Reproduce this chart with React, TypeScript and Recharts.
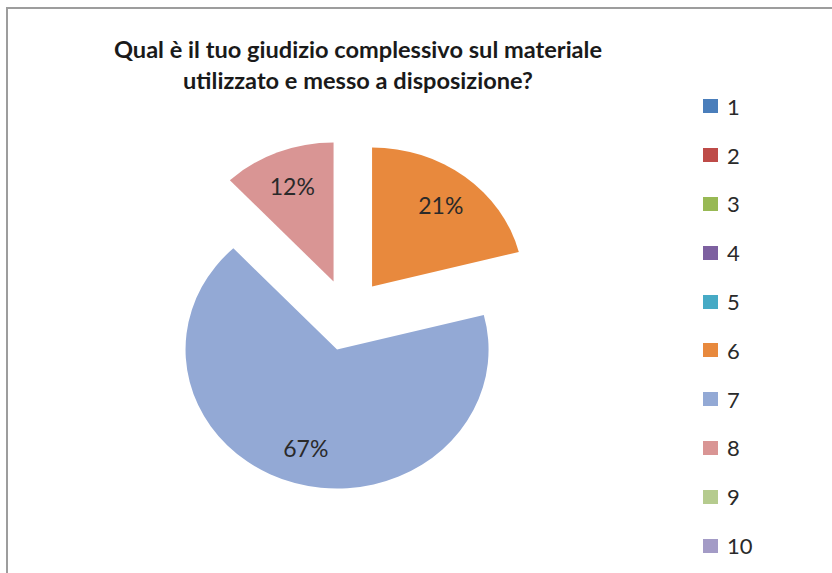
import React from 'react';
import { PieChart, Pie, Cell, Legend, Sector } from 'recharts';

const categories = ['1', '2', '3', '4', '5', '6', '7', '8', '9', '10'];
const shares = [0, 0, 0, 0, 0, 21, 67, 12, 0, 0];
const COLORS = ['#4A7EBB', '#BE4B48', '#98B954', '#7D60A0', '#46AAC5', '#E8893D', '#93A9D5', '#D99594', '#B5CB8E', '#A39BC6'];
const titleLines = ['Qual è il tuo giudizio complessivo sul materiale', 'utilizzato e messo a disposizione?'];

const RAD = Math.PI / 180;
const STRETCH = 1.09; // the original pie is a little wider than tall
const EXPLODE = 36;

const chartData = categories.map((name, i) => ({ name, value: shares[i], fill: COLORS[i] }));

const ExplodedSlice = (props: any) => {
  const { cx, cy, outerRadius, startAngle, endAngle, midAngle, fill, value } = props;
  if (!value) return null;
  const cos = Math.cos(-midAngle * RAD);
  const sin = Math.sin(-midAngle * RAD);
  const ox = cx + EXPLODE * cos;
  const oy = cy + EXPLODE * sin;
  const lr = outerRadius * 0.74;
  const lx = cx + STRETCH * (EXPLODE + lr) * cos;
  const ly = cy + (EXPLODE + lr) * sin;
  return (
    <g>
      <g transform={`translate(${cx},${cy}) scale(${STRETCH},1) translate(${-cx},${-cy})`}>
        <Sector
          cx={ox}
          cy={oy}
          innerRadius={0}
          outerRadius={outerRadius}
          startAngle={startAngle}
          endAngle={endAngle}
          fill={fill}
          stroke="none"
        />
      </g>
      <text
        x={lx}
        y={ly}
        textAnchor="middle"
        dominantBaseline="central"
        fill="#2a2a2a"
        fontFamily="Lato, sans-serif"
        fontSize={23}
      >
        {`${value}%`}
      </text>
    </g>
  );
};

const renderLegend = () => (
  <div style={{ fontFamily: 'Lato, sans-serif', fontSize: 22, color: '#2a2a2a' }}>
    {categories.map((name, i) => (
      <div key={name} style={{ height: 48.8, display: 'flex', alignItems: 'center' }}>
        <span style={{ display: 'inline-block', width: 15, height: 14, background: COLORS[i], marginRight: 9 }} />
        <span>{name}</span>
      </div>
    ))}
  </div>
);

const App: React.FC = () => {
  return (
    <div style={{ position: 'absolute', left: 0, top: 0, width: 832, height: 573, overflow: 'hidden', background: '#fff' }}>
      <div
        style={{
          position: 'absolute',
          left: 6,
          top: 7,
          width: 900,
          height: 700,
          border: '2px solid #9d9d9d',
          boxSizing: 'border-box',
        }}
      />
      <div
        style={{
          position: 'absolute',
          left: 0,
          top: 34,
          width: 716,
          textAlign: 'center',
          fontFamily: 'Lato, sans-serif',
          fontWeight: 700,
          fontSize: 23.6,
          lineHeight: '31px',
          color: '#1a1a1a',
        }}
      >
        {titleLines.map((line) => (
          <div key={line}>{line}</div>
        ))}
      </div>
      <PieChart width={832} height={573} margin={{ top: 0, right: 0, bottom: 0, left: 0 }}>
        <Pie
          data={chartData}
          dataKey="value"
          nameKey="name"
          cx={348}
          cy={315}
          outerRadius={139}
          startAngle={90}
          endAngle={-270}
          stroke="none"
          shape={ExplodedSlice}
          isAnimationActive={false}
        >
          {chartData.map((entry, index) => (
            <Cell key={`cell-${index}`} fill={entry.fill} />
          ))}
        </Pie>
        <Legend
          layout="vertical"
          align="right"
          verticalAlign="top"
          content={renderLegend}
          wrapperStyle={{ position: 'absolute', left: 703, top: 82, width: 80 }}
        />
      </PieChart>
    </div>
  );
};

export default App;
